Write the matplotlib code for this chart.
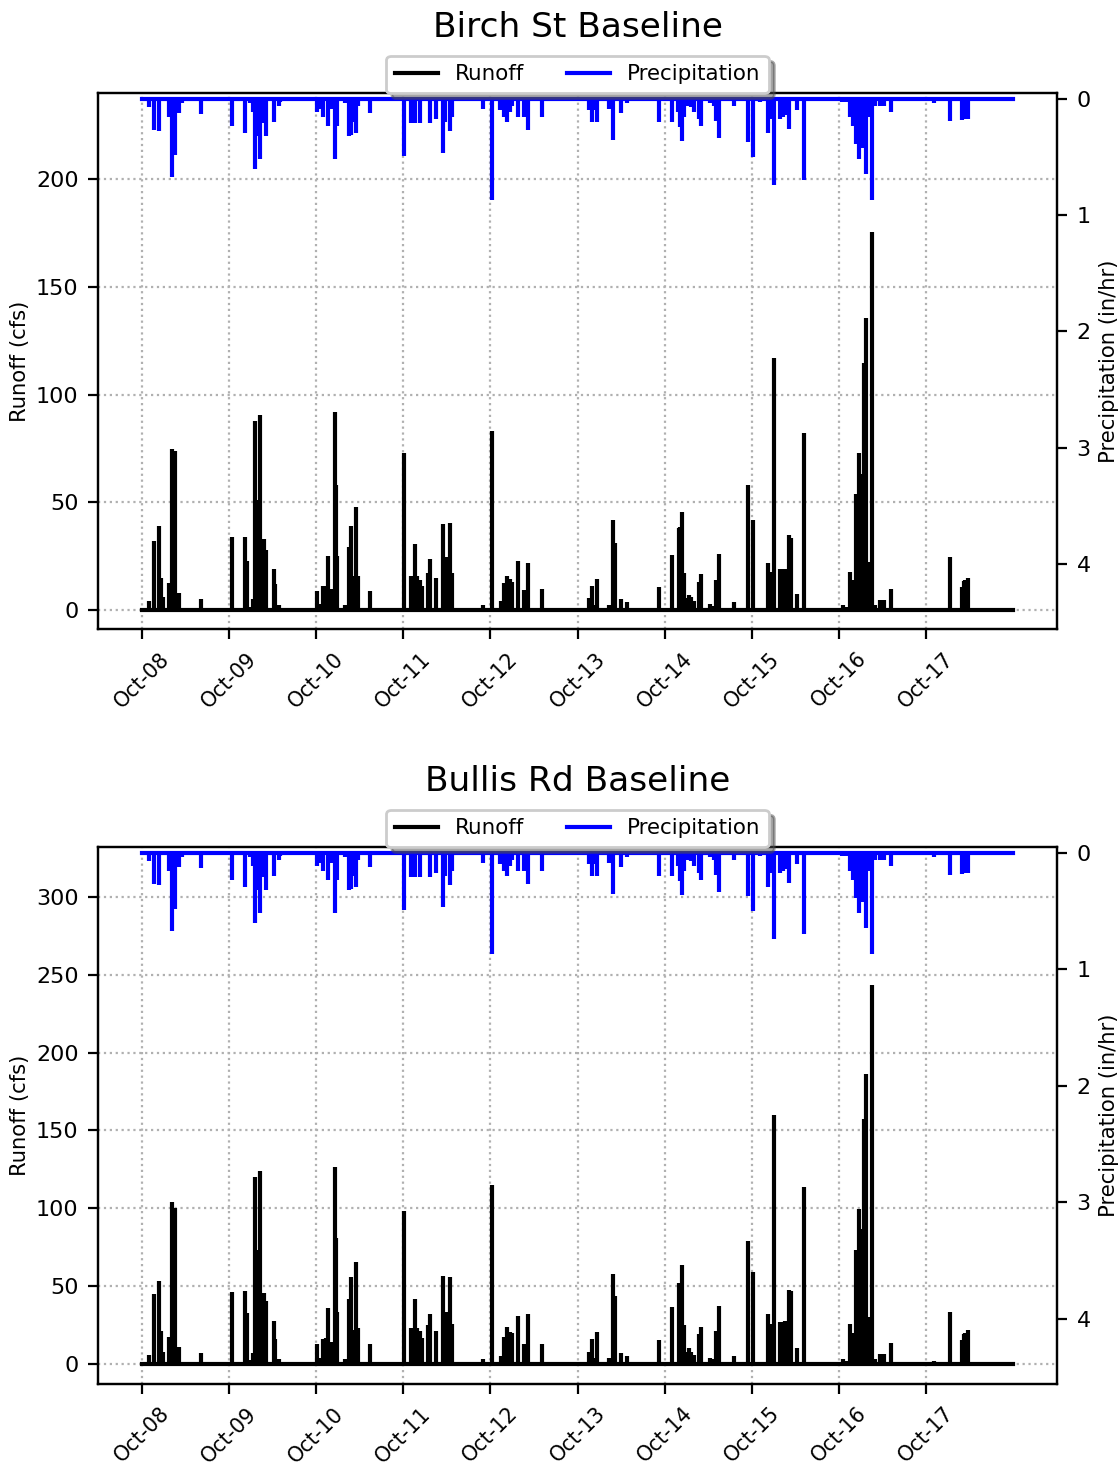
import matplotlib
matplotlib.use("Agg")
import matplotlib.pyplot as plt
import matplotlib.dates as mdates
import pandas as pd
import numpy as np

plt.rcParams['font.family'] = ['DejaVu Sans']

# ---------------- data ----------------
record_start = "2008-10-01"
record_end = "2018-10-01"

event_dates = [
    # WY 2009
    "2008-11-02", "2008-11-24", "2008-12-14", "2008-12-20", "2008-12-28", "2009-01-23",
    "2009-02-05", "2009-02-19", "2009-03-05", "2009-03-21", "2009-06-05",
    # WY 2010
    "2009-10-16", "2009-12-08", "2009-12-17", "2009-12-29", "2010-01-12", "2010-01-19",
    "2010-01-27", "2010-02-08", "2010-02-16", "2010-02-27", "2010-03-07", "2010-04-07",
    "2010-04-14", "2010-04-28", "2010-05-02",
    # WY 2011
    "2010-10-05", "2010-10-18", "2010-10-30", "2010-11-12", "2010-11-21", "2010-12-03",
    "2010-12-20", "2010-12-24", "2010-12-29", "2011-01-29", "2011-02-17", "2011-02-24",
    "2011-03-06", "2011-03-19", "2011-03-26", "2011-05-17",
    # WY 2012
    "2011-10-04", "2011-11-05", "2011-11-19", "2011-11-28", "2011-12-12", "2011-12-18",
    "2012-01-13", "2012-01-22", "2012-02-15", "2012-03-17", "2012-03-26", "2012-04-04",
    "2012-04-13", "2012-04-25", "2012-08-29",
    # WY 2013
    "2012-10-09", "2012-11-09", "2012-11-16", "2012-11-27", "2012-12-11", "2012-12-24",
    "2013-01-01", "2013-01-23", "2013-02-19", "2013-03-06", "2013-05-05",
    # WY 2014
    "2013-11-20", "2013-11-30", "2013-12-10", "2013-12-21", "2014-02-09", "2014-02-28",
    "2014-03-07", "2014-04-02", "2014-04-28", "2014-09-09",
    # WY 2015
    "2014-11-02", "2014-11-24", "2014-11-30", "2014-12-05", "2014-12-14", "2014-12-22",
    "2015-01-02", "2015-01-12", "2015-01-19", "2015-01-30", "2015-02-22", "2015-03-03",
    "2015-04-08", "2015-04-27", "2015-05-06", "2015-05-16", "2015-07-19", "2015-09-16",
    # WY 2016
    "2015-10-05", "2015-11-03", "2015-12-08", "2015-12-18", "2015-12-25", "2016-01-04",
    "2016-01-29", "2016-02-09", "2016-02-19", "2016-03-05", "2016-03-12", "2016-04-06",
    "2016-05-08",
    # WY 2017
    "2016-10-11", "2016-10-15", "2016-10-29", "2016-11-17", "2016-11-28", "2016-12-12",
    "2016-12-22", "2017-01-02", "2017-01-09", "2017-01-15", "2017-01-20", "2017-02-04",
    "2017-02-17", "2017-02-28", "2017-03-20", "2017-04-07", "2017-05-05",
    # WY 2018
    "2017-09-27", "2017-11-01", "2017-11-28", "2018-01-08", "2018-02-27", "2018-03-06",
    "2018-03-14", "2018-03-23", "2018-04-24", "2018-05-22",
]

birch_runoff = [
    4.2, 32, 39, 15, 6, 12.5, 75, 74, 8, 0, 5,
    34, 34, 23, 1.5, 5, 88, 51, 90.5, 21, 33, 28, 19, 12, 2.3, 0,
    9, 3, 11, 11, 25, 10, 92, 58, 25, 2.3, 29.4, 39, 16, 48, 16, 9,
    73, 16, 30.6, 16, 14, 11, 17, 23.5, 14.7, 40, 17, 24.5, 40.5, 17.3, 2.3,
    83, 0, 4, 12.4, 16, 14.4, 13, 22.8, 9.3, 22, 9.6,
    5.7, 11, 2.3, 14.4, 2.6, 42, 31, 5, 3.7, 10.8,
    25.4, 0, 38, 38.4, 45.4, 17, 5.4, 7, 6, 4.2, 13, 16.7, 2.8, 1.9, 14.2, 26, 3.6, 58,
    41.8, 0.8, 21.7, 17.8, 9.3, 117, 18.9, 18.9, 19.3, 35, 33.7, 7.7, 82,
    0, 2.3, 1.5, 17.8, 14, 54, 72.8, 37, 63, 114.5, 135.4, 22.4, 175.7, 2.3, 4.6, 4.6, 9.6,
    0, 1.2, 0, 24.5, 10.8, 13.6, 13.9, 14.7, 0, 0.6,
]

bullis_runoff = [
    5.8, 45, 53, 21, 8, 17.6, 104, 100, 11, 0, 7.3,
    46, 47, 33, 2.6, 7.3, 120, 73, 124, 31.5, 45.4, 40.7, 27.6, 16, 3.2, 0,
    12.6, 3.6, 15.8, 16.7, 36, 14.3, 126.8, 80.7, 33.6, 3, 41.5, 55.7, 22, 65.5, 23, 12.8,
    98.5, 23, 42, 23, 21.2, 16.5, 25, 32, 21.2, 56.5, 25, 33.6, 56, 25.7, 3.2,
    115, 0, 5.1, 17.6, 23.5, 20.8, 20, 31, 12.8, 32, 12.8,
    7.9, 16, 3.6, 20.7, 3.6, 57.5, 44, 6.8, 5.1, 15.4,
    36.8, 0, 51.8, 52, 63.5, 25, 7.9, 10, 8, 5.8, 19, 24, 4, 3, 21, 37.2, 5.1, 79,
    59, 0.9, 31.9, 26, 12.2, 159.8, 27.2, 27.2, 27.8, 47.5, 47, 10, 113.4,
    0, 3.2, 2, 25.7, 19.7, 73, 99.5, 51.8, 87, 157.6, 186.5, 30.4, 243.2, 3, 6.4, 6.4, 13.3,
    0, 2, 0, 33.2, 15.4, 19.3, 19.7, 21.8, 0, 0.9,
]

precipitation = [
    0.07, 0.27, 0.28, 0, 0, 0.16, 0.67, 0.48, 0.12, 0.04, 0.13,
    0.23, 0.29, 0, 0.04, 0.11, 0.60, 0.32, 0.52, 0, 0.21, 0.32, 0.20, 0, 0.06, 0.03,
    0.11, 0.09, 0.16, 0, 0.23, 0.09, 0.52, 0, 0.23, 0.04, 0.32, 0.31, 0.20, 0.29, 0.06, 0.12,
    0.49, 0.21, 0.21, 0, 0.21, 0, 0, 0.21, 0.17, 0.47, 0.20, 0, 0.28, 0.16, 0.09,
    0.87, 0.10, 0, 0.16, 0.20, 0.11, 0.06, 0.16, 0.16, 0.27, 0.16,
    0.10, 0.20, 0.10, 0.20, 0.09, 0.35, 0, 0.12, 0.04, 0.20,
    0.20, 0.11, 0, 0.24, 0.36, 0.16, 0.06, 0, 0.07, 0.11, 0.17, 0.23, 0.04, 0.06, 0.19, 0.34, 0.06, 0.37,
    0.50, 0.03, 0.29, 0.17, 0.09, 0.74, 0.17, 0.16, 0.14, 0.26, 0, 0.10, 0.70,
    0.03, 0, 0.03, 0.16, 0.23, 0.39, 0.52, 0.32, 0.42, 0, 0.65, 0.16, 0.87, 0.06, 0.06, 0.06, 0.11,
    0.01, 0.04, 0.02, 0.19, 0.18, 0.17, 0, 0.17, 0.02, 0.02,
]

tick_dates = ["2008-10-01", "2009-10-01", "2010-10-01", "2011-10-01", "2012-10-01",
              "2013-10-01", "2014-10-01", "2015-10-01", "2016-10-01", "2017-10-01"]

titles = ["Birch St Baseline", "Bullis Rd Baseline"]
runoff_ticks = [[0, 50, 100, 150, 200], [0, 50, 100, 150, 200, 250, 300]]
precip_ticks = [0, 1, 2, 3, 4]

# ---------------- plotting ----------------
t = pd.to_datetime(event_dates)
t0 = pd.Timestamp(record_start)
t1 = pd.Timestamp(record_end)
ticks = pd.to_datetime(tick_dates)
precip = np.array(precipitation)

fig = plt.figure(figsize=(5.6, 7.325), dpi=200)

layout = [
    dict(rect=[0.0875, 0.5706, 0.8563, 0.3659], ylim=(-8.8, 240.0)),
    dict(rect=[0.0875, 0.0553, 0.8563, 0.3666], ylim=(-12.8, 332.0)),
]
runoffs = [np.array(birch_runoff), np.array(bullis_runoff)]

LW = 1.5
for i in range(2):
    ax = fig.add_axes(layout[i]["rect"])
    r = runoffs[i]
    m = r > 0
    ax.vlines(t[m], 0, r[m], color="k", lw=LW)
    l1, = ax.plot([t0, t1], [0, 0], color="k", lw=LW, label="Runoff")
    ax.set_ylim(*layout[i]["ylim"])
    ax.set_yticks(runoff_ticks[i])
    ax.set_ylabel("Runoff (cfs)", fontsize=7.6, labelpad=2)
    ax.tick_params(axis="y", labelsize=8)
    ax.tick_params(axis="x", labelsize=7.4)
    ax.grid(True, linestyle=":", color="#b0b0b0", lw=0.8)
    ax.set_xticks(ticks)
    ax.xaxis.set_major_formatter(mdates.DateFormatter("%b-%y"))
    for lab in ax.get_xticklabels():
        lab.set_rotation(45)

    ax2 = ax.twinx()
    mp = precip > 0
    ax2.vlines(t[mp], 0, precip[mp], color="b", lw=LW)
    l2, = ax2.plot([t0, t1], [0, 0], color="b", lw=LW, label="Precipitation")
    ax2.set_ylim(4.56, -0.05)
    ax2.set_yticks(precip_ticks)
    ax2.set_ylabel("Precipitation (in/hr)", fontsize=7.6, labelpad=3)
    ax2.tick_params(labelsize=8)

    ax.set_title(titles[i], fontsize=12.4, pad=20)
    ax2.legend([l1, l2], ["Runoff", "Precipitation"], loc="lower center",
               bbox_to_anchor=(0.5, 1.0), borderaxespad=0, ncol=2,
               shadow=True, fontsize=7.7)

fig.savefig("out.png", dpi=200)
